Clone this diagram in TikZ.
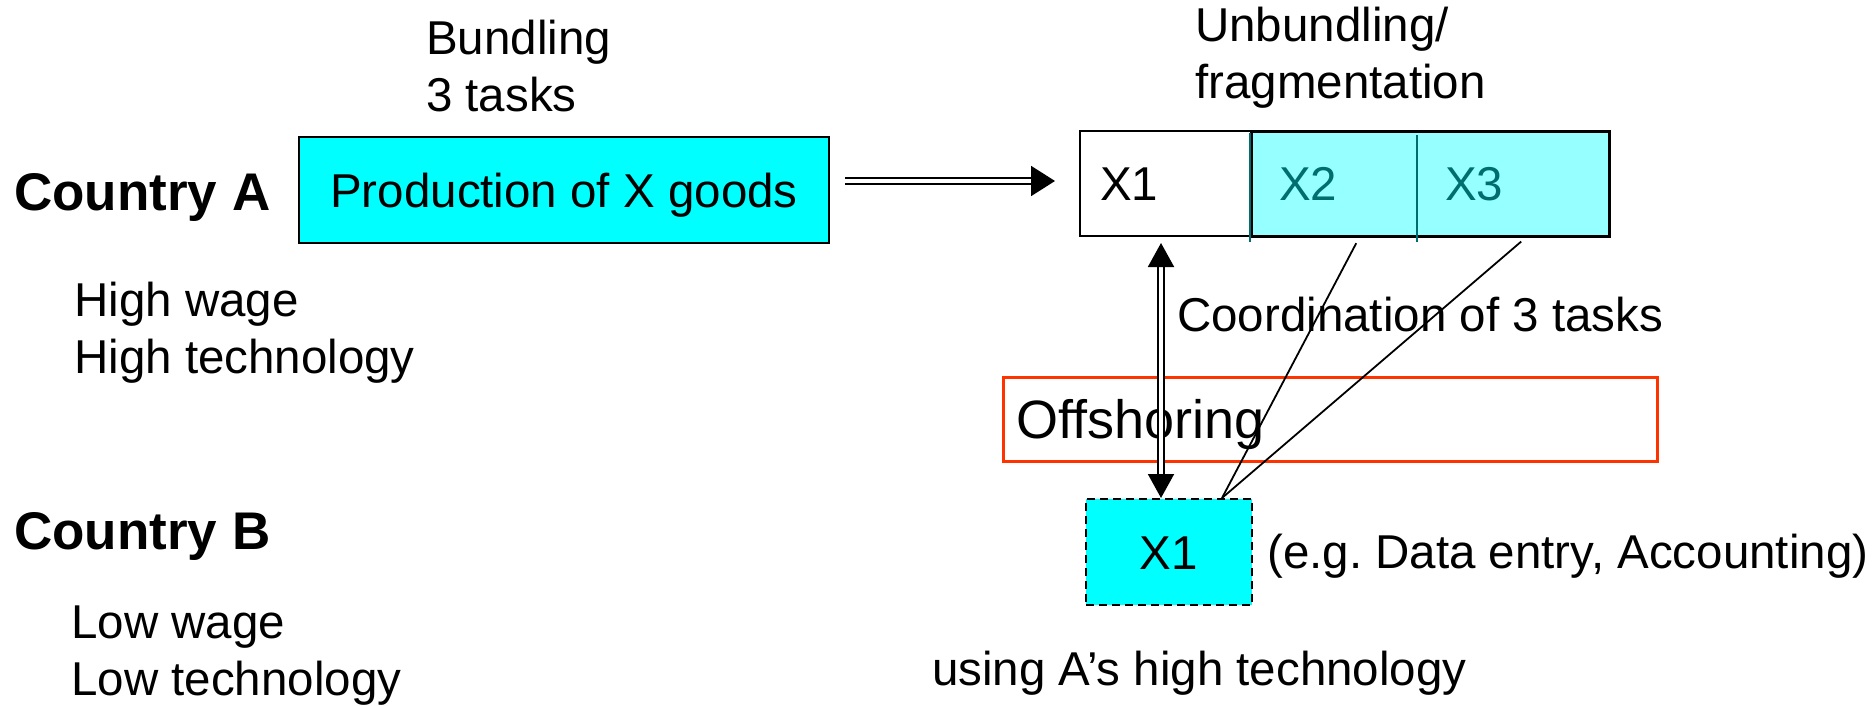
\documentclass[tikz,border=0pt]{standalone}
\usepackage{fontspec}
\setmainfont{Liberation Sans}
\usetikzlibrary{arrows.meta}
\definecolor{aqua}{RGB}{0,255,255}
\definecolor{paleaqua}{RGB}{150,255,255}
\definecolor{deepteal}{RGB}{0,110,110}
\definecolor{offred}{RGB}{255,51,0}
\newcommand\regtxt{\fontsize{47.5}{57}\selectfont}
\newcommand\boldtxt{\fontsize{53}{63}\selectfont\bfseries}
\newcommand\offtxt{\fontsize{54}{64}\selectfont}
\frenchspacing
\begin{document}
\begin{tikzpicture}[x=1pt,y=-1pt,
  lbl/.style={anchor=base west, inner sep=0pt, font=\regtxt},
  country/.style={anchor=base west, inner sep=0pt, font=\boldtxt},
  taskbox/.style={draw=black, line width=2pt, inner sep=0pt, anchor=north west,
    text height=34pt, text depth=0pt, font=\regtxt},
  divider/.style={draw=deepteal, line width=2pt},
  fan/.style={draw=black, line width=1.8pt},
  dblarrow/.style={line width=1.9pt, double distance=3.6pt,
    arrows={-Triangle[length=24pt,width=30pt]}},
  dblboth/.style={line width=1.9pt, double distance=3.6pt,
    arrows={Triangle[length=24pt,width=26pt]-Triangle[length=24pt,width=26pt]}},
]
\useasboundingbox (0,0) rectangle (1874,706);

% country labels and characteristics
\node[country] (ca) at (14,210) {Country A};
\node[country] (cb) at (14,549) {Country B};
\node[lbl] (hw) at (74,316) {\begin{tabular}[t]{@{}l@{}}High wage\\High technology\end{tabular}};
\node[lbl] (lw) at (71,638) {\begin{tabular}[t]{@{}l@{}}Low wage\\Low technology\end{tabular}};

% bundled production
\node[lbl] (bund) at (426,55) {\begin{tabular}[t]{@{}l@{}}Bundling\\3 tasks\end{tabular}};
\node[taskbox, fill=aqua, minimum width=530pt, minimum height=106pt] (prod) at (298,136) {Production of X goods};

% unbundled tasks
\node[lbl] (unb) at (1195,42) {\begin{tabular}[t]{@{}l@{}}Unbundling/\\fragmentation\end{tabular}};
\node[taskbox, fill=white, minimum width=529pt, minimum height=105pt] (xbox) at (1079,130) {};
\node[taskbox, fill=paleaqua, line width=2.6pt, minimum width=358pt, minimum height=105pt] (xcyan) at (1250,130) {};
\draw[divider] (1250,133) -- (1250,242);
\draw[divider] (1417,135) -- (1417,242);
\node[lbl] (xone) at (1100,200) {X1};
\node[lbl, text=deepteal] (xtwo) at (1279,200) {X2};
\node[lbl, text=deepteal] (xthree) at (1445,200) {X3};

% offshored task
\node[lbl] (coord) at (1177,331) {Coordination of 3 tasks};
\node[draw=offred, line width=2.5pt, inner sep=0pt, anchor=north west,
  minimum width=654pt, minimum height=84pt] (offbox) at (1002,376) {};
\node[anchor=base west, inner sep=0pt, font=\offtxt] (offlbl) at (1016,438) {Offshoring};
\node[taskbox, fill=aqua, dash pattern=on 8pt off 5pt, minimum width=166pt, minimum height=106pt] (xb) at (1085,498) {X1};
\node[lbl] (eg) at (1267,568) {(e.g. Data entry, Accounting)};
\node[lbl] (using) at (932,685) {using A’s high technology};

% connectors
\draw[dblarrow, shorten <=15pt, shorten >=24pt]
  ([yshift=9pt]prod.east) -- ([yshift=9pt]prod.east -| xbox.west);
\draw[dblboth, shorten >=6pt]
  ([xshift=-8pt]xb.north) -- ([xshift=-8pt]xb.north |- xbox.south);
\draw[fan, shorten >=7pt] ([xshift=53pt]xb.north) -- ([xshift=15pt]xbox.south);
\draw[fan, shorten >=7pt] ([xshift=53pt]xb.north) -- ([xshift=182pt]xbox.south);
\end{tikzpicture}
\end{document}
